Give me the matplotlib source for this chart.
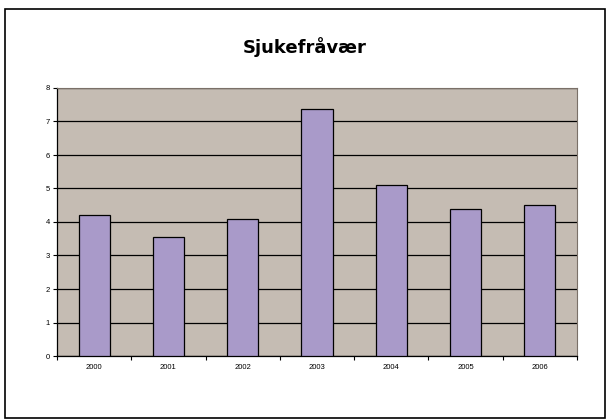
import matplotlib
matplotlib.use("Agg")
import matplotlib.pyplot as plt
import numpy as np
from matplotlib.patches import Rectangle

years = ["2000", "2001", "2002", "2003", "2004", "2005", "2006"]
sickleave = [4.2, 3.55, 4.1, 7.38, 5.1, 4.4, 4.5]
yticks = [0, 1, 2, 3, 4, 5, 6, 7, 8]

fig = plt.figure(figsize=(6.06, 4.19), dpi=100)
fig.patch.set_facecolor("white")
fig.patches.append(Rectangle((5 / 606, 0.002), 600 / 606, 409 / 419, transform=fig.transFigure,
                             fill=False, edgecolor="black", linewidth=1.2))

ax = fig.add_axes([57 / 606, 63 / 419, 520 / 606, 268 / 419])
ax.set_facecolor("#C5BCB3")
x = np.arange(len(years))
ax.bar(x, sickleave, width=0.42, color="#A99AC9", edgecolor="black", linewidth=0.9, zorder=3)

ax.set_xlim(-0.5, len(years) - 0.5)
ax.set_ylim(0, 8)
ax.set_yticks(yticks)
ax.set_yticklabels([str(v) for v in yticks], fontsize=5.5, family="Liberation Sans")
ax.set_xticks(x)
ax.set_xticklabels(years, fontsize=5.5, family="Liberation Sans")
ax.tick_params(axis="x", length=0, pad=6)
ax.set_xticks(np.arange(-0.5, len(years)), minor=True)
ax.tick_params(axis="x", which="minor", length=3, direction="out", width=0.8)
ax.tick_params(axis="y", length=3, direction="out", width=0.8, pad=2)
ax.grid(axis="y", color="black", linewidth=0.9, zorder=1)
ax.set_axisbelow(True)

for side in ["top", "right"]:
    ax.spines[side].set_color("#7a7068")
    ax.spines[side].set_linewidth(0.8)
for side in ["left", "bottom"]:
    ax.spines[side].set_color("black")
    ax.spines[side].set_linewidth(0.9)

fig.text(0.503, 0.888, "Sjukefråvær", ha="center", va="center", fontsize=13,
         fontweight="bold", family="DejaVu Sans")

fig.savefig("out.png", dpi=100)
